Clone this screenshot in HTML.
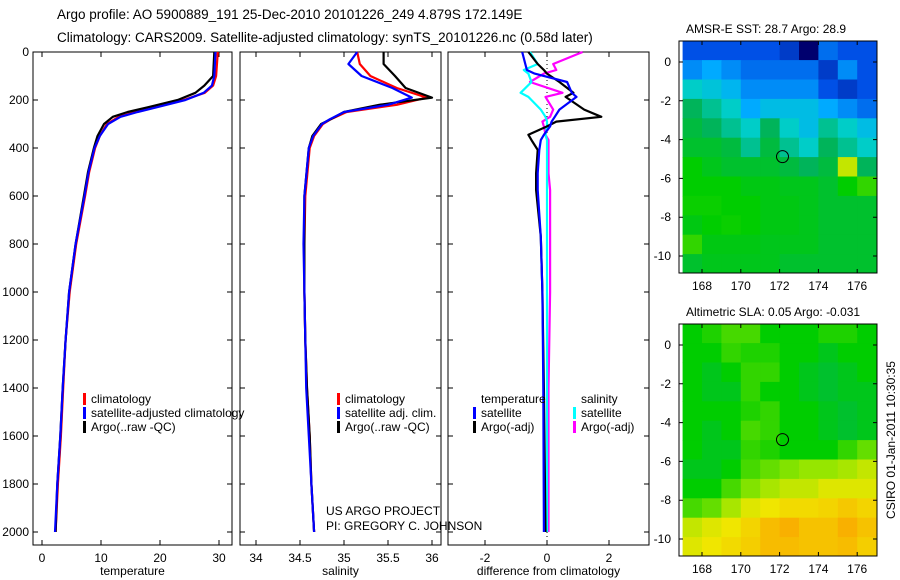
<!DOCTYPE html>
<html><head><meta charset="utf-8"><style>
body{margin:0;background:#fff;}
svg{display:block;font-family:"Liberation Sans",sans-serif;}
text{fill:#000;}
</style></head><body>
<svg id="c" width="900" height="580" viewBox="0 0 900 580" xmlns="http://www.w3.org/2000/svg">
<text x="57" y="19" font-size="13.5">Argo profile: AO 5900889_191 25-Dec-2010 20101226_249 4.879S 172.149E</text>
<text x="57" y="42" font-size="13.5">Climatology: CARS2009. Satellite-adjusted climatology: synTS_20101226.nc (0.58d later)</text>
<text x="686" y="33" font-size="12">AMSR-E SST: 28.7 Argo: 28.9</text>
<text x="686" y="316" font-size="12">Altimetric SLA: 0.05 Argo: -0.031</text>
<text transform="translate(895,440) rotate(-90)" text-anchor="middle" font-size="12">CSIRO 01-Jan-2011 10:30:35</text>
<text x="326" y="515" font-size="12">US ARGO PROJECT</text>
<text x="326" y="530" font-size="12">PI: GREGORY C. JOHNSON</text>
</svg>
<script>
// ---- profile data ----
const depthT = [0,100,140,170,200,230,250,270,300,350,400,500,600,800,1000,1200,1400,1600,1800,2000];
const tempClim = [29.8,29.5,29.0,27.6,24.0,19.0,15.8,13.0,11.0,9.8,9.0,8.0,7.3,5.8,4.7,4.0,3.6,3.2,2.7,2.3];
const tempSat  = [29.4,29.2,28.8,27.4,24.3,19.5,16.2,13.3,11.2,9.8,8.9,7.9,7.2,5.7,4.6,4.0,3.5,3.1,2.6,2.2];
const tempArgo = [29.2,29.0,27.5,26.0,23.0,18.0,14.5,12.0,10.5,9.4,8.8,7.8,7.1,5.7,4.6,4.0,3.5,3.1,2.6,2.3];
const depthS = [0,50,100,150,190,220,250,280,300,350,400,600,800,1000,1200,1400,1600,1800,2000];
const salClim = [35.15,35.18,35.3,35.6,35.94,35.6,35.03,34.85,34.76,34.66,34.61,34.56,34.55,34.55,34.56,34.58,34.61,34.63,34.66];
const salSat  = [35.15,35.05,35.2,35.55,35.77,35.5,35.0,34.84,34.75,34.65,34.6,34.55,34.54,34.55,34.56,34.57,34.6,34.63,34.66];
const salArgo = [35.45,35.45,35.58,35.7,36.0,35.4,35.0,34.85,34.74,34.64,34.6,34.55,34.55,34.55,34.56,34.58,34.61,34.63,34.66];
const depthD = [0,50,75,90,125,170,187,240,270,290,310,345,367,408,505,575,770,1000,1400,2000];
const dTempSat  = [-0.8,-0.7,-0.65,-0.4,0.65,0.8,0.95,0.4,0.25,0.15,0.1,-0.1,-0.2,-0.25,-0.3,-0.3,-0.2,-0.15,-0.12,-0.1];
const dTempArgo = [-0.6,-0.3,-0.1,0,0.4,0.85,0.6,1.2,1.75,0.3,0,-0.6,-0.5,-0.3,-0.35,-0.35,-0.2,-0.15,-0.1,-0.05];
const dSalSat   = [-0.55,-0.3,-0.75,-0.6,-0.5,-0.85,-0.6,-0.2,-0.05,0,0,-0.05,0,0,0,0,0,0,0,0];
const dSalArgo  = [1.15,0.2,0.3,-0.1,-0.55,0.5,-0.05,0.2,0.1,-0.15,-0.1,-0.05,0.05,0.05,0.05,0.1,0.1,0.1,0.05,0.05];
// ---- map data (1-degree cells, rows from lat 1 southward, cols from lon 167 eastward) ----
const sstGrid = [
[.2,.2,.2,.2,.2,.15,0,.25,.2,.2],
[.3,.35,.3,.25,.25,.25,.25,.15,.3,.2],
[.45,.42,.38,.3,.3,.3,.3,.2,.15,.2],
[.55,.5,.45,.35,.4,.4,.4,.35,.3,.25],
[.58,.55,.5,.45,.55,.45,.4,.5,.45,.4],
[.6,.6,.58,.5,.58,.5,.45,.55,.5,.45],
[.65,.62,.6,.6,.6,.58,.55,.58,.85,.55],
[.65,.65,.65,.63,.63,.62,.62,.6,.65,.7],
[.66,.66,.65,.65,.63,.63,.62,.6,.6,.6],
[.63,.65,.66,.65,.63,.63,.62,.6,.6,.6],
[.7,.63,.63,.63,.62,.62,.62,.6,.6,.6],
[.6,.62,.62,.62,.62,.6,.6,.6,.6,.6]];
const slaGrid = [
[.65,.68,.72,.72,.65,.65,.65,.68,.68,.65],
[.65,.65,.7,.68,.68,.65,.65,.62,.65,.65],
[.65,.62,.65,.7,.7,.65,.62,.6,.62,.65],
[.65,.62,.62,.7,.65,.65,.62,.6,.62,.62],
[.65,.65,.65,.68,.7,.65,.65,.62,.6,.62],
[.65,.62,.65,.72,.7,.65,.65,.62,.6,.62],
[.65,.62,.62,.7,.68,.65,.65,.65,.7,.75],
[.62,.62,.65,.72,.75,.78,.8,.8,.82,.85],
[.65,.65,.72,.78,.82,.85,.85,.88,.88,.88],
[.72,.75,.82,.88,.9,.92,.92,.93,.95,.93],
[.85,.88,.9,.93,.97,.99,.96,.96,.99,.96],
[.88,.9,.92,.94,.97,.97,.96,.96,.97,.94]];
const lonTicks = [168,170,172,174,176];
const latTicks = [0,-2,-4,-6,-8,-10];
const depthTicks = [0,200,400,600,800,1000,1200,1400,1600,1800,2000];
const argoLon = 172.149, argoLat = -4.879;

const NS='http://www.w3.org/2000/svg', svg=document.getElementById('c');
function mk(tag,attrs,parent){const e=document.createElementNS(NS,tag);for(const k in attrs)e.setAttribute(k,attrs[k]);(parent||svg).appendChild(e);return e;}
const yTop=52, yScale=0.24, yD=d=>yTop+d*yScale;
const panels=[
 {x0:33,x1:232,xv:v=>42+v*5.9,ticks:[0,10,20,30],lab:'temperature',nm:'temperature'},
 {x0:240,x1:441,xv:v=>256+(v-34)*88,ticks:[34,34.5,35,35.5,36],lab:'salinity',nm:'salinity'},
 {x0:448,x1:649,xv:v=>547+v*31,ticks:[-2,0,2],lab:'difference from climatology',nm:'difference'}];
const yBot=545;
panels.forEach((p,i)=>{
 const f=mk('rect',{x:p.x0,y:yTop,width:p.x1-p.x0,height:yBot-yTop,fill:'none',stroke:'#000','stroke-width':1});
 
 
 p.ticks.forEach(t=>{const x=p.xv(t);
  const l=mk('path',{d:`M${x},${yBot}v-5M${x},${yTop}v5`,stroke:'#000'});
  
  
  const tx=mk('text',{x:x,y:yBot+17,'text-anchor':'middle','font-size':12});tx.textContent=t;
  
  
 });
 depthTicks.forEach(d=>{const y=yD(d);
  const l=mk('path',{d:`M${p.x0},${y}h5M${p.x1},${y}h-5`,stroke:'#000'});
  
  
  if(i===0){const tx=mk('text',{x:29,y:y+4,'text-anchor':'end','font-size':12});tx.textContent=d;
   
   }
 });
 const xl=mk('text',{x:(p.x0+p.x1)/2,y:575,'text-anchor':'middle','font-size':12});xl.textContent=p.lab;
 
 
});
const zl=mk('line',{x1:panels[2].xv(0),x2:panels[2].xv(0),y1:yTop,y2:yBot,stroke:'#000','stroke-dasharray':'1,3'});


function line(p,depths,vals,color,name){
 const d=vals.map((v,k)=>(k?'L':'M')+p.xv(v).toFixed(1)+','+yD(depths[k]).toFixed(1)).join('');
 const e=mk('path',{d:d,fill:'none',stroke:color,'stroke-width':2.2,'stroke-linejoin':'round'});
 
 
}
line(panels[0],depthT,tempClim,'#f00','temp-climatology-line');
line(panels[0],depthT,tempArgo,'#000','temp-argo-line');
line(panels[0],depthT,tempSat,'#00f','temp-satellite-line');
line(panels[1],depthS,salClim,'#f00','sal-climatology-line');
line(panels[1],depthS,salArgo,'#000','sal-argo-line');
line(panels[1],depthS,salSat,'#00f','sal-satellite-line');
line(panels[2],depthD,dSalArgo,'#f0f','diff-sal-argo-line');
line(panels[2],depthD,dSalSat,'#0ff','diff-sal-satellite-line');
line(panels[2],depthD,dTempArgo,'#000','diff-temp-argo-line');
line(panels[2],depthD,dTempSat,'#00f','diff-temp-satellite-line');
function legend(x,y,color,label,name){
 const m=mk('rect',{x:x,y:y-10,width:3,height:12,fill:color});
 
 
 const t=mk('text',{x:x+8,y:y,'font-size':12});t.textContent=label;
 
 
}
legend(83,403,'#f00','climatology','legend-climatology');
legend(83,417,'#00f','satellite-adjusted climatology','legend-satellite-adjusted');
legend(83,431,'#000','Argo(..raw -QC)','legend-argo-temp');
legend(337,403,'#f00','climatology','legend-sal-climatology');
legend(337,417,'#00f','satellite adj. clim.','legend-sal-satellite');
legend(337,431,'#000','Argo(..raw -QC)','legend-sal-argo');
const th=mk('text',{x:481,y:403,'font-size':12});th.textContent='temperature';


const sh=mk('text',{x:581,y:403,'font-size':12});sh.textContent='salinity';


legend(473,417,'#00f','satellite','legend-diff-temp-satellite');
legend(473,431,'#000','Argo(-adj)','legend-diff-temp-argo');
legend(573,417,'#0ff','satellite','legend-diff-sal-satellite');
legend(573,431,'#f0f','Argo(-adj)','legend-diff-sal-argo');
const cmS=[0,.2,.35,.45,.55,.65,.8,.9,1];
const cmC=[[0,0,110],[0,80,230],[0,170,255],[0,205,200],[0,180,90],[0,205,0],[150,230,0],[240,230,0],[250,170,0]];
function col(v){for(let k=1;k<cmS.length;k++){if(v<=cmS[k]){const f=(v-cmS[k-1])/(cmS[k]-cmS[k-1]);const a=cmC[k-1],b=cmC[k];return `rgb(${a.map((c,j)=>Math.round(c+(b[j]-c)*f)).join(',')})`;}}return 'rgb(250,170,0)';}
function map(y0,grid,nm){
 const x0=679,x1=877,y1=y0+232,pd=19.4;
 const lx=lon=>702+(lon-168)*pd, ly=lat=>y0+21+(0-lat)*pd;
 const g=mk('g',{});
 const cp=mk('clipPath',{id:nm+'-clip'});mk('rect',{x:x0,y:y0,width:x1-x0,height:y1-y0},cp);
 g.setAttribute('clip-path',`url(#${nm}-clip)`);
 grid.forEach((row,r)=>row.forEach((v,c)=>{
  const e=mk('rect',{x:lx(167+c).toFixed(1),y:ly(1.1-r).toFixed(1),width:pd+0.6,height:pd+0.6,fill:col(v)},g);
  
  
 }));
 const f=mk('rect',{x:x0,y:y0,width:x1-x0,height:y1-y0,fill:'none',stroke:'#000'});
 
 lonTicks.forEach(t=>{const x=lx(t);
  const l=mk('path',{d:`M${x},${y0}v4M${x},${y1}v-4`,stroke:'#000'});
  
  const tx=mk('text',{x:x,y:y1+17,'text-anchor':'middle','font-size':12});tx.textContent=t;
  });
 latTicks.forEach(t=>{const y=ly(t);
  const l=mk('path',{d:`M${x0},${y}h4M${x1},${y}h-4`,stroke:'#000'});
  
  const tx=mk('text',{x:x0-8,y:y+4,'text-anchor':'end','font-size':12});tx.textContent=t;
  });
 const c=mk('circle',{cx:lx(argoLon),cy:ly(argoLat),r:6,fill:'none',stroke:'#000'});
 
}
map(41,sstGrid,'sst-map');
map(324,slaGrid,'sla-map');
</script>
</body></html>
